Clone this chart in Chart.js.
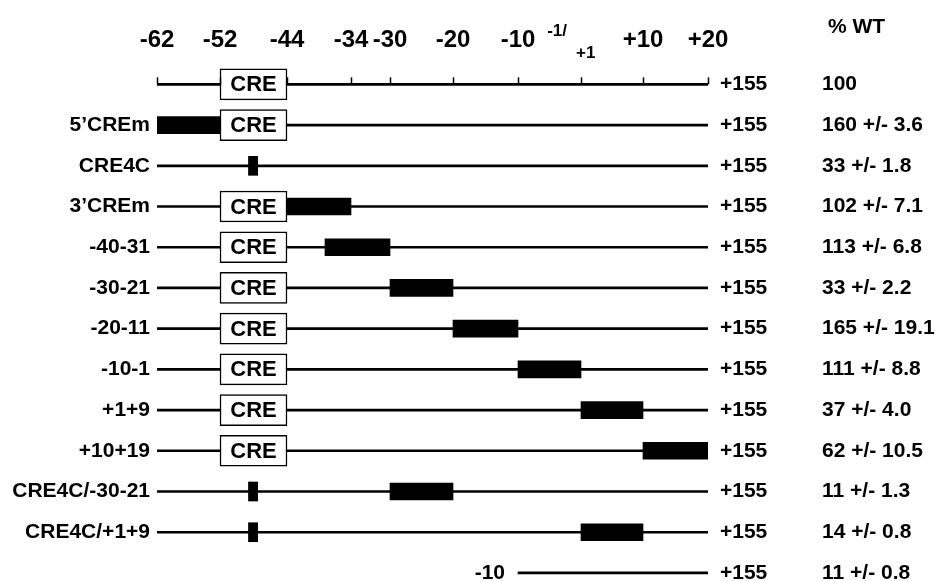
<!DOCTYPE html>
<html>
<head>
<meta charset="utf-8">
<script src="https://cdn.jsdelivr.net/npm/chart.js@4.4.0/dist/chart.umd.min.js"></script>
<style>
  html, body { margin: 0; padding: 0; background: #fff; }
  #wrap { width: 935px; height: 581px; position: relative; }
</style>
</head>
<body>
<div id="wrap"><canvas id="chart"></canvas></div>
<script>
// rows from top to bottom, row 0 is the wild type promoter with the ruler
const rowLabels = ['', '5’CREm', 'CRE4C', '3’CREm', '-40-31', '-30-21', '-20-11', '-10-1', '+1+9', '+10+19', 'CRE4C/-30-21', 'CRE4C/+1+9', ''];
const endLabels = ['+155', '+155', '+155', '+155', '+155', '+155', '+155', '+155', '+155', '+155', '+155', '+155', '+155'];
const pctWT = ['100', '160 +/- 3.6', '33 +/- 1.8', '102 +/- 7.1', '113 +/- 6.8', '33 +/- 2.2', '165 +/- 19.1', '111 +/- 8.8', '37 +/- 4.0', '62 +/- 10.5', '11 +/- 1.3', '14 +/- 0.8', '11 +/- 0.8'];

// promoter line: first drawn nucleotide of each row, all run to +20 (then "+155")
const lineStart = [-62, -62, -62, -62, -62, -62, -62, -62, -62, -62, -62, -62, -10];
const lineEnd = 20;

// intact CRE box
const creRows = [0, 1, 3, 4, 5, 6, 7, 8, 9];
const creSpan = [-52, -44];

// block substitutions
const mutRows = [1, 3, 4, 5, 6, 7, 8, 9, 10, 11];
const mutFrom = [-62, -44, -40, -30, -20, -10, 1, 10, -30, 1];
const mutTo = [-52, -34, -30, -20, -10, 1, 10, 20, -20, 10];

// point mutation inside the CRE
const pointRows = [2, 10, 11];
const pointSpan = [-48.6, -47.5];

// ruler ticks
const tickNt = [-62, -52, -44, -34, -30, -20, -10, 1, 10, 20];
const tickText = ['-62', '-52', '-44', '-34', '-30', '-20', '-10', '-1/+1', '+10', '+20'];

// the drawing is not to scale: nucleotide -> schematic units
const knotNt = [-62, -52, -44, -40, -34, -30, -20, -10, 1, 10, 20];
const knotUnit = [0, 63, 130, 168, 194, 233, 296, 361, 424, 486, 551];

function toUnit(nt) {
    for (let i = 1; i < knotNt.length; i++) {
        if (nt <= knotNt[i]) {
            let f = (nt - knotNt[i - 1]) / (knotNt[i] - knotNt[i - 1]);
            return knotUnit[i - 1] + f * (knotUnit[i] - knotUnit[i - 1]);
        }
    }
    return knotUnit[knotUnit.length - 1];
}

const FONT = "'Liberation Sans', Arial, Helvetica, sans-serif";
Chart.defaults.font.family = FONT;
Chart.defaults.color = '#000';

function rowAxis(position, weight, texts, width, pad) {
    return {
        type: 'linear',
        position: position,
        weight: weight,
        reverse: true,
        offset: false,
        min: -0.55,
        max: 12.1,
        stacked: true,
        grid: { display: false, drawTicks: false, tickLength: 0 },
        border: { display: false },
        afterBuildTicks: (s) => { s.ticks = texts.map((t, i) => ({ value: i })); },
        afterFit: (s) => {
            s.width = width;
            s.paddingTop = 0;
            s.paddingBottom = 0;
        },
        ticks: {
            autoSkip: false,
            padding: pad,
            font: { size: 21, weight: 'bold' },
            color: '#000',
            callback: (v) => texts[v]
        }
    };
}

const diagramText = {
    id: 'diagramText',
    afterDatasetsDraw(chart) {
        const ctx = chart.ctx;
        const x = chart.scales.x;
        const y = chart.scales.y;
        ctx.save();
        ctx.fillStyle = '#000';
        ctx.strokeStyle = '#000';

        // ruler ticks on the wild type line
        ctx.lineWidth = 1.5;
        let y0 = y.getPixelForValue(0);
        tickNt.forEach(n => {
            let px = Math.round(x.getPixelForValue(toUnit(n))) + 0.5;
            ctx.beginPath();
            ctx.moveTo(px, y0);
            ctx.lineTo(px, y0 - 7);
            ctx.stroke();
        });

        // CRE text in the boxes
        ctx.font = 'bold 22px ' + FONT;
        ctx.textAlign = 'center';
        ctx.textBaseline = 'middle';
        chart.getDatasetMeta(1).data.forEach(bar => {
            ctx.fillText('CRE', (bar.x + bar.base) / 2, bar.y + 1);
        });

        // -1/+1 tick label
        let p1 = x.getPixelForValue(toUnit(1));
        ctx.font = 'bold 17px ' + FONT;
        ctx.textBaseline = 'alphabetic';
        ctx.textAlign = 'right';
        ctx.fillText('-1/', p1 - 14, 36);
        ctx.textAlign = 'left';
        ctx.fillText('+1', p1 - 5, 58);

        // truncated promoter label
        ctx.font = 'bold 21px ' + FONT;
        ctx.textAlign = 'right';
        ctx.textBaseline = 'middle';
        let last = rowLabels.length - 1;
        ctx.fillText('-10', x.getPixelForValue(toUnit(lineStart[last])) - 13, y.getPixelForValue(last));

        // column header
        ctx.textAlign = 'left';
        ctx.fillText('% WT', chart.scales.y3.left + 8, 27);
        ctx.restore();
    }
};

new Chart(document.getElementById('chart'), {
    type: 'bar',
    data: {
        datasets: [
            {
                label: 'promoter',
                data: lineStart.map((s, i) => ({ x: [toUnit(s), toUnit(lineEnd)], y: i })),
                backgroundColor: '#000',
                borderWidth: 0,
                barThickness: 2,
                order: 4
            },
            {
                label: 'CRE',
                data: creRows.map(r => ({ x: [toUnit(creSpan[0]), toUnit(creSpan[1])], y: r })),
                backgroundColor: '#fff',
                borderColor: '#000',
                borderWidth: 1.5,
                borderSkipped: false,
                barThickness: 31,
                order: 3
            },
            {
                label: 'block mutation',
                data: mutRows.map((r, k) => ({ x: [toUnit(mutFrom[k]), toUnit(mutTo[k])], y: r })),
                backgroundColor: '#000',
                borderWidth: 0,
                barThickness: 17,
                order: 2
            },
            {
                label: 'CRE4C',
                data: pointRows.map(r => ({ x: [toUnit(pointSpan[0]), toUnit(pointSpan[1])], y: r })),
                backgroundColor: '#000',
                borderWidth: 0,
                barThickness: 19,
                order: 1
            }
        ]
    },
    options: {
        indexAxis: 'y',
        responsive: true,
        maintainAspectRatio: false,
        animation: false,
        layout: { padding: { top: 0, bottom: 4, left: 0, right: 0 } },
        plugins: {
            legend: { display: false },
            tooltip: { enabled: false },
            title: { display: false }
        },
        scales: {
            x: {
                type: 'linear',
                position: 'top',
                min: 0,
                max: knotUnit[knotUnit.length - 1],
                stacked: false,
                grid: { display: false, drawTicks: false, tickLength: 0 },
                border: { display: false },
                afterBuildTicks: (s) => { s.ticks = tickNt.map(n => ({ value: toUnit(n) })); },
                afterFit: (s) => { s.height = 62; },
                ticks: {
                    autoSkip: false,
                    maxRotation: 0,
                    padding: 7,
                    font: { size: 24, weight: 'bold' },
                    color: '#000',
                    callback: (v, i) => tickText[i] === '-1/+1' ? '' : tickText[i]
                }
            },
            y: rowAxis('left', 0, rowLabels, 157, 7),
            y2: rowAxis('right', 0, endLabels, 112, 12),
            y3: rowAxis('right', 1, pctWT, 115, 2)
        }
    },
    plugins: [diagramText]
});
</script>
</body>
</html>
